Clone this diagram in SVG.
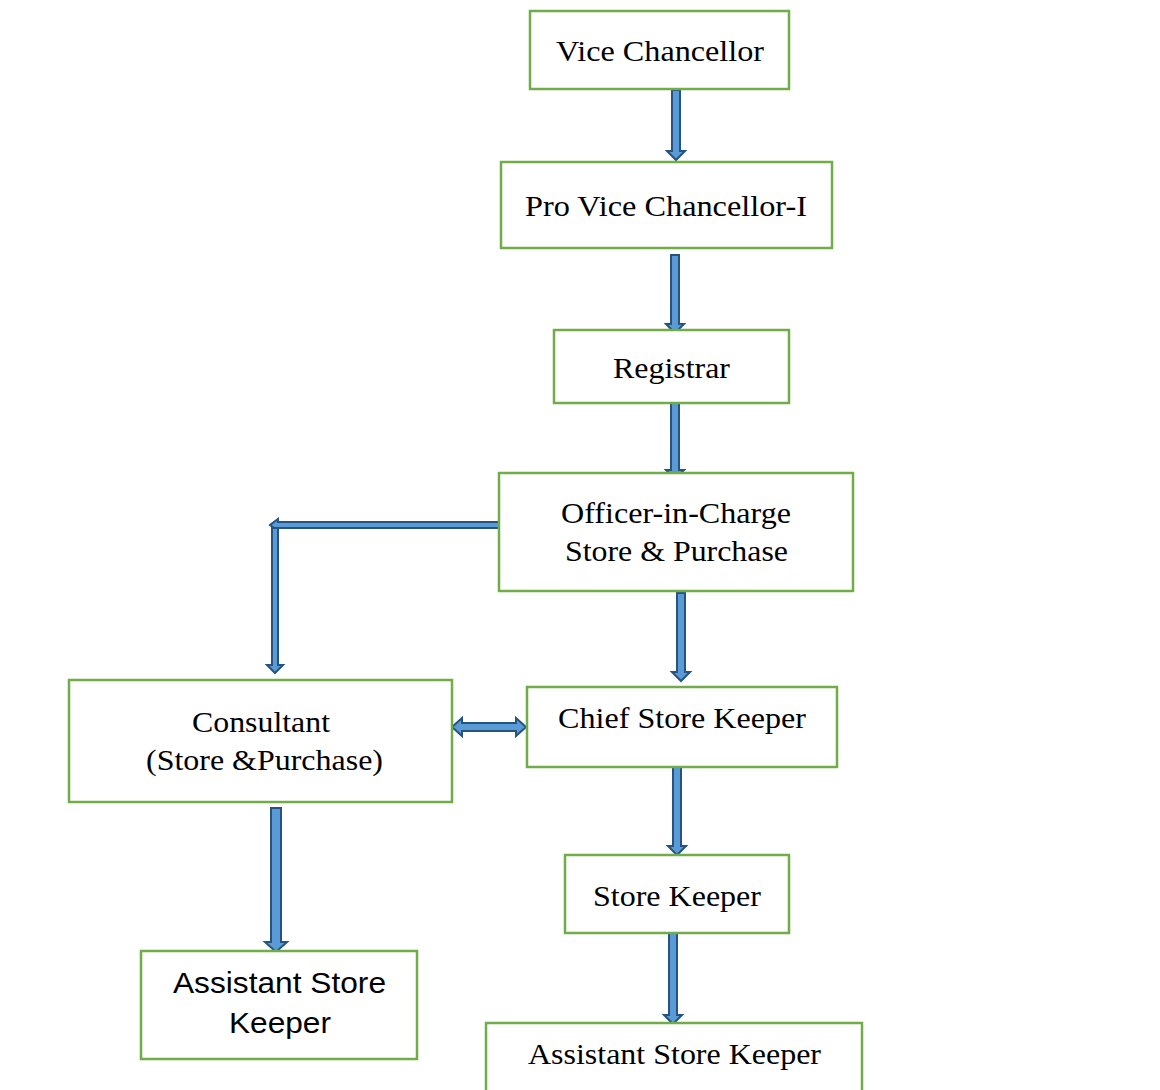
<svg xmlns="http://www.w3.org/2000/svg" width="1160" height="1090" viewBox="0 0 1160 1090">
  <style>
    .box { fill: #ffffff; stroke: #70ad47; stroke-width: 2.5; }
    .t { font-family: "Liberation Serif", "Times New Roman", serif; font-size: 29px; fill: #000; text-anchor: middle; }
    .ts { font-family: "Liberation Sans", Arial, sans-serif; font-size: 29px; fill: #000; text-anchor: middle; }
    .arr { fill: #5b9bd5; stroke: #265382; stroke-width: 2; stroke-linejoin: miter; }
  </style>
  <rect width="1160" height="1090" fill="#ffffff"/>

  <g id="connectors">
    <path class="arr" d="M672,90 H680 V151 H685 L676,160 L667,151 H672 Z"/>
    <path class="arr" d="M671,255 H679 V324 H684 L675,333 L666,324 H671 Z"/>
    <path class="arr" d="M671,402 H679 V470 H684 L675,479 L666,470 H671 Z"/>
    <path class="arr" d="M502,522 V528 H278 V531 L270,525 L278,519 V522 Z"/>
    <path class="arr" d="M272,528 H278 V665 H283 L275,673 L267,665 H272 Z"/>
    <path class="arr" d="M677,593 H685 V672 H690 L681,681 L672,672 H677 Z"/>
    <path class="arr" d="M452,727 L462,718 V723 H516 V718 L526,727 L516,736 V731 H462 V736 Z"/>
    <path class="arr" d="M673,766 H681 V846 H686 L677,855 L668,846 H673 Z"/>
    <path class="arr" d="M669,933 H677 V1015 H682 L673,1024 L664,1015 H669 Z"/>
    <path class="arr" d="M271,808 H281 V942 H287 L276,952 L265,942 H271 Z"/>
  </g>

  <g id="vice-chancellor">
    <rect class="box" x="530" y="11" width="259" height="78"/>
    <text class="t" x="660" y="61" textLength="208" lengthAdjust="spacingAndGlyphs">Vice Chancellor</text>
  </g>
  <g id="pro-vice-chancellor">
    <rect class="box" x="501" y="162" width="331" height="86"/>
    <text class="t" x="666" y="216" textLength="282" lengthAdjust="spacingAndGlyphs">Pro Vice Chancellor-I</text>
  </g>
  <g id="registrar">
    <rect class="box" x="554" y="330" width="235" height="73"/>
    <text class="t" x="671.5" y="378" textLength="117" lengthAdjust="spacingAndGlyphs">Registrar</text>
  </g>
  <g id="officer-in-charge">
    <rect class="box" x="499" y="473" width="354" height="118"/>
    <text class="t" x="676" y="523" textLength="230" lengthAdjust="spacingAndGlyphs">Officer-in-Charge</text>
    <text class="t" x="676.5" y="561" textLength="223" lengthAdjust="spacingAndGlyphs">Store &amp; Purchase</text>
  </g>
  <g id="consultant">
    <rect class="box" x="69" y="680" width="383" height="122"/>
    <text class="t" x="261" y="732" textLength="138" lengthAdjust="spacingAndGlyphs">Consultant</text>
    <text class="t" x="264.5" y="770" textLength="237" lengthAdjust="spacingAndGlyphs">(Store &amp;Purchase)</text>
  </g>
  <g id="chief-store-keeper">
    <rect class="box" x="527" y="687" width="310" height="80"/>
    <text class="t" x="682" y="728" textLength="248" lengthAdjust="spacingAndGlyphs">Chief Store Keeper</text>
  </g>
  <g id="store-keeper">
    <rect class="box" x="565" y="855" width="224" height="78"/>
    <text class="t" x="677" y="906" textLength="168" lengthAdjust="spacingAndGlyphs">Store Keeper</text>
  </g>
  <g id="assistant-store-keeper-left">
    <rect class="box" x="141" y="951" width="276" height="108"/>
    <text class="ts" x="279.5" y="993" textLength="213" lengthAdjust="spacingAndGlyphs">Assistant Store</text>
    <text class="ts" x="280" y="1033" textLength="102" lengthAdjust="spacingAndGlyphs">Keeper</text>
  </g>
  <g id="assistant-store-keeper-right">
    <rect class="box" x="486" y="1023" width="376" height="80"/>
    <text class="t" x="674.5" y="1064" textLength="293" lengthAdjust="spacingAndGlyphs">Assistant Store Keeper</text>
  </g>
</svg>
